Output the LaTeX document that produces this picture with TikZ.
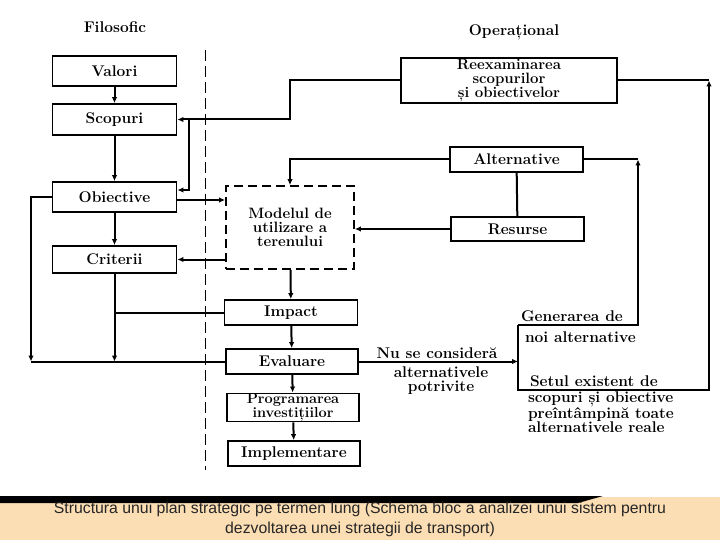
\documentclass[tikz,border=0pt]{standalone}
\usepackage{fontspec}
\newfontfamily\capfont{Liberation Sans}
\usetikzlibrary{arrows.meta}
\definecolor{peach}{RGB}{252,222,180}
\tikzset{
  box/.style={draw, line width=1.8pt, inner sep=0pt, align=center,
    font=\bfseries\fontsize{15}{13.8}\selectfont},
  lbl/.style={inner sep=0pt, font=\bfseries\fontsize{15.5}{14}\selectfont},
  capt/.style={anchor=base, text=black!85, font=\capfont\fontsize{15.8}{20}\selectfont},
}

\begin{document}
\begin{tikzpicture}[x=1pt,y=-1pt,line width=2pt,>={Latex[length=6pt,width=5.5pt]}]
      \useasboundingbox (0,0) rectangle (720,540);
      \fill[white] (0,0) rectangle (720,540);
      \fill[peach] (0,497) rectangle (720,540);
      \fill[black] (0,496) -- (603,496) -- (578,503) -- (0,503) -- cycle;
      \draw[line width=1pt, dash pattern=on 11pt off 5pt] (205,50) -- (205,470);
      \draw
        (360,513) node[capt] (cap1){Structura unui plan strategic pe termen lung (Schema bloc a analizei unui sistem pentru}
        (360,533) node[capt] (cap2){dezvoltarea unei strategii de transport)}
        (115,27) node[lbl] (filo){Filosofic}
        (514,32) node[lbl] (oper){Operațional}
        (114.5,71) node[box, font=\bfseries\fontsize{15.5}{14}\selectfont, minimum width=124pt, minimum height=30pt] (valori){Valori}
        (114.5,119.5) node[box, font=\bfseries\fontsize{15.5}{14}\selectfont, minimum width=124pt, minimum height=31pt] (scopuri){Scopuri}
        (114.5,197) node[box, font=\bfseries\fontsize{15.5}{14}\selectfont, minimum width=124pt, minimum height=30pt] (obiective){Obiective}
        (114.5,259.5) node[box, font=\bfseries\fontsize{15.5}{14}\selectfont, minimum width=124pt, minimum height=27pt] (criterii){Criterii}
        (290,227.5) node[box, dash pattern=on 9pt off 5pt, minimum width=128pt, minimum height=83pt] (modelul){Modelul de\\utilizare a\\terenului}
        (291,312.5) node[box, font=\bfseries\fontsize{15.5}{14}\selectfont, minimum width=133pt, minimum height=25pt] (impact){Impact}
        (292,361.5) node[box, font=\bfseries\fontsize{15.5}{14}\selectfont, minimum width=132pt, minimum height=25pt] (evaluare){Evaluare}
        (293,407.5) node[box, minimum width=132pt, minimum height=25pt, font=\bfseries\fontsize{14.5}{11}\selectfont] (program){Programarea\\investițiilor}
        (294,453.5) node[box, font=\bfseries\fontsize{15.5}{14}\selectfont, minimum width=132pt, minimum height=25pt] (implement){Implementare}
        (509,80.5) node[box, minimum width=216pt, minimum height=45pt] (reex){Reexaminarea\\scopurilor\\și obiectivelor}
        (516.5,159.5) node[box, font=\bfseries\fontsize{15.5}{14}\selectfont, minimum width=133pt, minimum height=25pt] (alternative){Alternative}
        (517.5,229) node[box, font=\bfseries\fontsize{15.5}{14}\selectfont, minimum width=133pt, minimum height=24pt] (resurse){Resurse}
        (437,353) node[lbl] (nuse){Nu se consideră}
        (441,381) node[lbl, align=center] (potrivite){alternativele\\potrivite}
        (520,316) node[lbl, anchor=west] (generarea){Generarea de}
        (524,337) node[lbl, anchor=west] (noi){noi alternative}
        (529,381) node[lbl, anchor=west] (setul){Setul existent de}
        (527,412) node[lbl, anchor=west, align=left] (preint){scopuri și obiective\\preîntâmpină toate\\alternativele reale};
      \coordinate (k1) at (290,119.5);
      \coordinate (k2) at (189,119.5);
      \coordinate (k3) at (31,361.5);
      \coordinate (gen1) at (518,325);
      \coordinate (ga) at (638,325);
      \coordinate (gb) at (709,390);
      \begin{scope}[->]
        \draw (valori) to (scopuri);
        \draw (scopuri) to (obiective);
        \draw (obiective) to (criterii);
        \draw (modelul) to (impact);
        \draw (impact) to (evaluare);
        \draw (evaluare) to (program);
        \draw (program) to (implement);
        \draw (reex) -| (k1) -- (scopuri);
        \draw (k2) |- ([yshift=7pt]obiective.east);
        \draw (alternative) -| (modelul);
        \draw ([yshift=-3pt]obiective.east) -- ([yshift=-3pt]obiective.east -| modelul.west);
        \draw (modelul.west |- criterii) -- (criterii);
        \draw (resurse) -- (resurse -| modelul.east);
        \draw (criterii) -- (criterii |- evaluare);
        \draw (obiective) -| (k3);
        \draw (evaluare) -- (gen1 |- evaluare);
        \draw (gen1) -- (ga) -- (ga |- alternative);
        \draw (gen1) |- (gb) -- (gb |- reex);
      \end{scope}
      \begin{scope}[-]
        \draw (k3) -- (evaluare);
        \draw (impact) -- (impact -| criterii);
        \draw (alternative) -- (resurse);
        \draw (alternative) -- (ga |- alternative);
        \draw (reex) -- (gb |- reex);
      \end{scope}
    \end{tikzpicture}
\end{document}
